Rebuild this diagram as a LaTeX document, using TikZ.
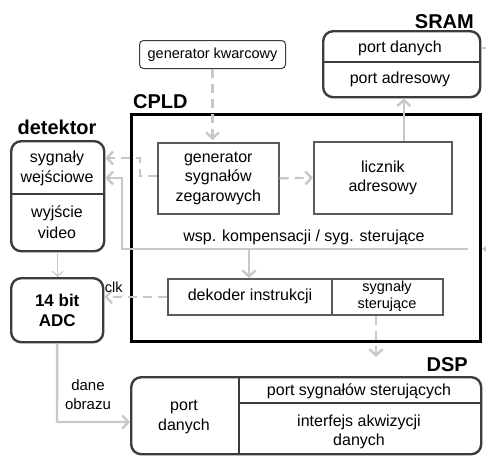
\documentclass[tikz,border=0pt]{standalone}
\usepackage{fontspec}
\setmainfont{Liberation Sans}
\usetikzlibrary{arrows.meta}
\definecolor{lgray}{RGB}{200,200,200}
\definecolor{dgray}{RGB}{60,60,60}
\definecolor{mgray}{RGB}{90,90,90}
\begin{document}
\begin{tikzpicture}[x=1pt,y=-1pt,
 box/.style={draw=dgray, line width=2.4pt, rounded corners=10pt, inner sep=0pt, anchor=north west},
 inbox/.style={draw=mgray, line width=1.6pt, inner sep=0pt, anchor=north west},
 txt/.style={font=\fontsize{16}{19.5}\selectfont, align=center, inner sep=0pt},
 stxt/.style={font=\fontsize{14.5}{17}\selectfont, align=center, inner sep=0pt},
 lbl/.style={font=\fontsize{20}{22}\selectfont\bfseries, inner sep=0pt},
 divider/.style={draw=dgray, line width=2.4pt},
 conn/.style={draw=lgray, line width=2.4pt, -{Straight Barb[length=6pt,width=13pt]}},
 dconn/.style={conn, dash pattern=on 9pt off 6pt},
]
\useasboundingbox (0,0) rectangle (486,456);

% SRAM
\node[box, minimum width=157pt, minimum height=66pt] (sram) at (322,30) {};
\draw[divider] (sram.west |- 0,62) -- (sram.east |- 0,62);
\node[txt] (sramdata) at (400,48) {port danych};
\node[txt] (sramaddr) at (400,79) {port adresowy};
\node[lbl, anchor=east] (sramlbl) at (474,22) {SRAM};

% generator kwarcowy
\node[draw=dgray, line width=1pt, rounded corners=4pt, minimum width=146pt, minimum height=28pt, anchor=north west, stxt] (kwarc) at (139,40) {generator kwarcowy};

% CPLD
\node[draw=black, line width=3pt, minimum width=349pt, minimum height=227pt, anchor=north west, inner sep=0pt] (cpld) at (130,113) {};
\node[lbl, anchor=west] (cpldlbl) at (133,102) {CPLD};

\node[inbox, txt, minimum width=121pt, minimum height=71pt] (gen) at (157,142) {generator\\sygnałów\\zegarowych};
\node[inbox, txt, minimum width=138pt, minimum height=72pt] (licz) at (313,141) {licznik\\adresowy};
\node[inbox, minimum width=275pt, minimum height=36pt] (dekbox) at (167,278) {};
\draw[draw=mgray, line width=1.6pt] (332,278) -- (332,314);
\node[txt] (dek) at (250,296) {dekoder instrukcji};
\node[stxt] (sters) at (387,296) {sygnały\\sterujące};
\node[txt] (wsp) at (304,237) {wsp. kompensacji / syg. sterujące};

% detektor
\node[box, minimum width=93pt, minimum height=110pt] (det) at (10,140) {};
\draw[divider] (det.west |- 0,194) -- (det.east |- 0,194);
\node[txt, font=\fontsize{16}{20}\selectfont] (detin) at (57,168) {sygnały\\wejściowe};
\node[txt, font=\fontsize{16}{21}\selectfont] (detout) at (57,222) {wyjście\\video};
\node[lbl, anchor=center] (detlbl) at (57,127) {detektor};

% ADC
\node[box, minimum width=92pt, minimum height=64pt, align=center, font=\fontsize{17}{19.5}\selectfont\bfseries] (adc) at (10,277) {14 bit\\ADC};

% DSP
\node[box, minimum width=350pt, minimum height=77pt] (dsp) at (130,376) {};
\draw[divider] (239,376) -- (239,453);
\draw[divider] (239,403) -- (dsp.east |- 0,403);
\node[txt] (dspdata) at (184,417) {port\\danych};
\node[txt] (dspster) at (359,391) {port sygnałów sterujących};
\node[txt] (dspakw) at (359,432) {interfejs akwizycji\\danych};
\node[lbl, anchor=east] (dsplbl) at (468,365) {DSP};

% coordinates
\coordinate (rin) at (486,249);
\coordinate (fbstart) at (468,249);
\coordinate (sramout) at (486,48);

% connectors
\draw[dconn, shorten >=2pt] (kwarc.south) -- (kwarc.south |- gen.north);
\draw[dconn] (gen.east) -- (licz.west);
\draw[conn] ([xshift=21pt]licz.north) -- ([xshift=21pt]licz.north |- sram.south);
\draw[dconn] (gen.west |- 0,176) -- (140,176) -- (140,158) -- (det.east |- 0,158);
\draw[draw=lgray, line width=2.4pt, -{Triangle[length=7pt,width=11pt]}] (rin) -- (cpld.east |- rin);
\draw[conn] (fbstart) -- (122,249) -- (122,178) -- (det.east |- 0,178);
\draw[conn] (249,249) -- (dekbox.north -| 249,0);
\draw[draw=lgray, line width=1.2pt, -{Straight Barb[length=5pt,width=11pt]}] (det.south) -- (det.south |- adc.north);
\draw[dconn] (dekbox.west) -- (adc.east |- dekbox.west) node[pos=0.85, above=3pt, font=\fontsize{14.5}{17}\selectfont, text=black, inner sep=0pt] (clk) {clk};
\draw[conn] (adc.south) -- (57,422) -- (dsp.west |- 0,422);
\node[txt, font=\fontsize{15}{19}\selectfont] (dane) at (88,395) {dane\\obrazu};
\draw[dconn, shorten >=19pt] (dekbox.south -| 376,0) -- (dsp.north -| 376,0);
\draw[draw=lgray, line width=2pt] (sram.east |- sramout) -- (sramout);
\end{tikzpicture}
\end{document}
